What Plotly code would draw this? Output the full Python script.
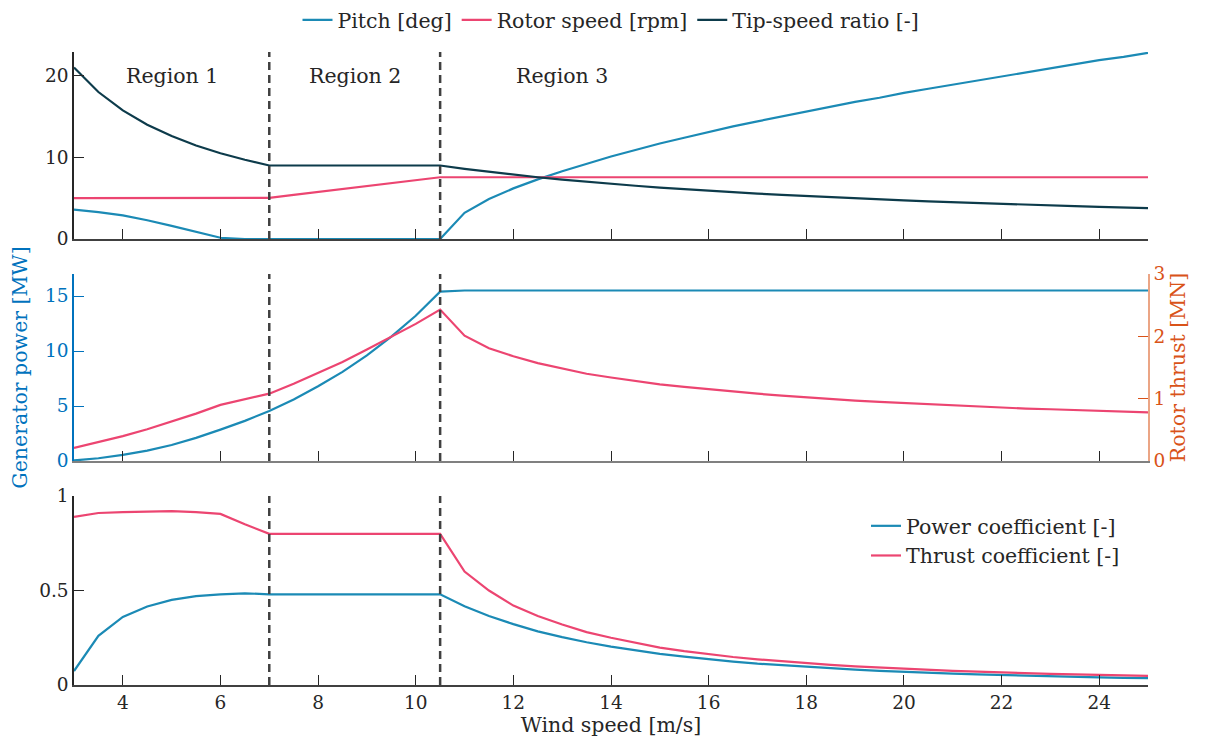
import plotly.graph_objects as go

wind = [3, 3.5, 4, 4.5, 5, 5.5, 6, 6.5, 7, 7.5, 8, 8.5, 9, 9.5, 10, 10.5,
        11, 11.5, 12, 12.5, 13, 13.5, 14, 14.5, 15, 15.5, 16, 16.5, 17, 17.5,
        18, 18.5, 19, 19.5, 20, 20.5, 21, 21.5, 22, 22.5, 23, 23.5, 24, 24.5, 25]

pitch = [3.6, 3.3, 2.9, 2.3, 1.6, 0.9, 0.15, 0.0, 0.0, 0.0, 0.0, 0.0, 0.0, 0.0, 0.0, 0.0,
         3.2, 4.9, 6.2, 7.3, 8.3, 9.2, 10.1, 10.9, 11.7, 12.4, 13.1, 13.8, 14.4, 15.0,
         15.6, 16.2, 16.8, 17.3, 17.9, 18.4, 18.9, 19.4, 19.9, 20.4, 20.9, 21.4, 21.9, 22.3, 22.8]

rotor_speed = [5.0, 5.0, 5.0, 5.0, 5.0, 5.0, 5.0, 5.0, 5.04, 5.4, 5.76, 6.12, 6.48, 6.84, 7.2, 7.56,
               7.56, 7.56, 7.56, 7.56, 7.56, 7.56, 7.56, 7.56, 7.56, 7.56, 7.56, 7.56, 7.56, 7.56,
               7.56, 7.56, 7.56, 7.56, 7.56, 7.56, 7.56, 7.56, 7.56, 7.56, 7.56, 7.56, 7.56, 7.56, 7.56]

tsr = [21.0, 18.0, 15.75, 14.0, 12.6, 11.45, 10.5, 9.7, 9.0, 9.0, 9.0, 9.0, 9.0, 9.0, 9.0, 9.0,
       8.59, 8.22, 7.88, 7.56, 7.27, 7.0, 6.75, 6.52, 6.3, 6.1, 5.91, 5.73, 5.56, 5.4,
       5.25, 5.11, 4.97, 4.85, 4.73, 4.61, 4.5, 4.4, 4.3, 4.2, 4.11, 4.02, 3.94, 3.86, 3.78]

gen_power = [0.05, 0.25, 0.55, 0.95, 1.45, 2.1, 2.85, 3.65, 4.55, 5.6, 6.8, 8.1, 9.6, 11.3, 13.2, 15.4,
             15.5, 15.5, 15.5, 15.5, 15.5, 15.5, 15.5, 15.5, 15.5, 15.5, 15.5, 15.5, 15.5, 15.5,
             15.5, 15.5, 15.5, 15.5, 15.5, 15.5, 15.5, 15.5, 15.5, 15.5, 15.5, 15.5, 15.5, 15.5, 15.5]

rotor_thrust = [0.21, 0.3, 0.4, 0.51, 0.63, 0.76, 0.9, 0.99, 1.08, 1.24, 1.41, 1.59, 1.79, 1.99, 2.2, 2.43,
                2.01, 1.81, 1.68, 1.57, 1.48, 1.4, 1.34, 1.28, 1.23, 1.19, 1.15, 1.11, 1.08, 1.05,
                1.02, 1.0, 0.97, 0.95, 0.93, 0.91, 0.89, 0.88, 0.86, 0.84, 0.83, 0.82, 0.8, 0.79, 0.78]

cp = [0.074, 0.26, 0.36, 0.415, 0.45, 0.47, 0.48, 0.485, 0.48, 0.48, 0.48, 0.48, 0.48, 0.48, 0.48, 0.48,
      0.417, 0.365, 0.322, 0.284, 0.253, 0.226, 0.203, 0.183, 0.165, 0.15, 0.136, 0.124, 0.113, 0.104,
      0.095, 0.088, 0.081, 0.075, 0.069, 0.064, 0.06, 0.056, 0.052, 0.049, 0.046, 0.043, 0.04, 0.038, 0.036]

ct = [0.89, 0.91, 0.915, 0.918, 0.92, 0.915, 0.905, 0.85, 0.8, 0.8, 0.8, 0.8, 0.8, 0.8, 0.8, 0.8,
      0.6, 0.5, 0.42, 0.365, 0.32, 0.28, 0.25, 0.222, 0.198, 0.179, 0.163, 0.148, 0.136, 0.125,
      0.115, 0.107, 0.099, 0.092, 0.086, 0.08, 0.075, 0.071, 0.066, 0.063, 0.059, 0.056, 0.053, 0.05, 0.048]

region_bounds = [7, 10.5]
region_labels = ["Region 1", "Region 2", "Region 3"]
region_label_x = [5, 8.75, 13]
region_label_y = 20

x_ticks = [4, 6, 8, 10, 12, 14, 16, 18, 20, 22, 24]

BLUE = "#1b8ab5"
PINK = "#ec4571"
DARK = "#0d3b4b"
AX_BLUE = "#0072bd"
AX_ORANGE = "#d95319"
TXT = "#262626"
FONT = "DejaVu Serif"
FS = 20.5     # labels, legends, annotations
FT = 18.5     # tick labels

# page body has an 8px margin: figure origin sits at (8, 8)
OFF = 8
W, Hfig = 1191, 733
L = 74 - OFF
T = 52 - OFF
R = W - (1148 - OFF)
B = Hfig - (685 - OFF)

fig = go.Figure()
lw = 2.2

fig.add_trace(go.Scatter(x=wind, y=pitch, name="Pitch [deg]", mode="lines",
                         line=dict(color=BLUE, width=lw), xaxis="x", yaxis="y", legend="legend"))
fig.add_trace(go.Scatter(x=wind, y=rotor_speed, name="Rotor speed [rpm]", mode="lines",
                         line=dict(color=PINK, width=lw), xaxis="x", yaxis="y", legend="legend"))
fig.add_trace(go.Scatter(x=wind, y=tsr, name="Tip-speed ratio [-]", mode="lines",
                         line=dict(color=DARK, width=lw), xaxis="x", yaxis="y", legend="legend"))

fig.add_trace(go.Scatter(x=wind, y=gen_power, name="Generator power [MW]", mode="lines",
                         line=dict(color=BLUE, width=lw), xaxis="x2", yaxis="y2", showlegend=False))
fig.add_trace(go.Scatter(x=wind, y=rotor_thrust, name="Rotor thrust [MN]", mode="lines",
                         line=dict(color=PINK, width=lw), xaxis="x2", yaxis="y3", showlegend=False))

fig.add_trace(go.Scatter(x=wind, y=cp, name="Power coefficient [-]", mode="lines",
                         line=dict(color=BLUE, width=lw), xaxis="x3", yaxis="y4", legend="legend2"))
fig.add_trace(go.Scatter(x=wind, y=ct, name="Thrust coefficient [-]", mode="lines",
                         line=dict(color=PINK, width=lw), xaxis="x3", yaxis="y4", legend="legend2"))

H = 633.0
dom_top = [(685 - 239) / H, 1.0]
dom_mid = [(685 - 461) / H, (685 - 274) / H]
dom_bot = [0.0, (685 - 496) / H]

def xax(anchor, show_labels, linecolor):
    d = dict(domain=[0, 1], anchor=anchor, range=[3, 25], tickvals=x_ticks,
             showticklabels=show_labels, ticks="inside", ticklen=10, tickcolor=TXT,
             tickwidth=1, showline=True, linecolor=linecolor, linewidth=1.5,
             showgrid=False, zeroline=False, automargin=False,
             tickfont=dict(family=FONT, size=FT, color=TXT))
    return d

fig.update_layout(
    width=W, height=Hfig,
    margin=dict(l=L, r=R, t=T, b=B, autoexpand=False),
    paper_bgcolor="white", plot_bgcolor="white",
    font=dict(family=FONT, size=FS, color=TXT),
    xaxis=xax("y", False, "#404040"),
    xaxis2=xax("y2", False, "#808080"),
    xaxis3=dict(xax("y4", True, "#404040"),
                title=dict(text="Wind speed [m/s]", font=dict(family=FONT, size=FS, color=TXT), standoff=2)),
    yaxis=dict(domain=dom_top, anchor="x", range=[0, 22.9], tickvals=[0, 10, 20],
               ticks="inside", ticklen=10, tickcolor=TXT, showline=True, linecolor=TXT,
               linewidth=1.5, showgrid=False, zeroline=False, automargin=False,
               tickfont=dict(family=FONT, size=FT, color=TXT)),
    yaxis2=dict(domain=dom_mid, anchor="x2", range=[0, 17], tickvals=[0, 5, 10, 15],
                ticks="inside", ticklen=10, tickcolor=AX_BLUE, showline=True, linecolor=AX_BLUE,
                linewidth=1.5, showgrid=False, zeroline=False, automargin=False,
                tickfont=dict(family=FONT, size=FT, color=AX_BLUE),
                title=dict(text="Generator power [MW]", font=dict(family=FONT, size=FS, color=AX_BLUE), standoff=14)),
    yaxis3=dict(domain=dom_mid, anchor="x2", overlaying="y2", side="right", range=[0, 3],
                tickvals=[0, 1, 2, 3], ticks="inside", ticklen=10, tickcolor=AX_ORANGE,
                showline=True, linecolor="#eba585", linewidth=1.5, showgrid=False, zeroline=False,
                automargin=False,
                tickfont=dict(family=FONT, size=FT, color=AX_ORANGE),
                title=dict(text="Rotor thrust [MN]", font=dict(family=FONT, size=FS, color=AX_ORANGE), standoff=6)),
    yaxis4=dict(domain=dom_bot, anchor="x3", range=[0, 1], tickvals=[0, 0.5, 1],
                ticktext=["0", "0.5", "1"], ticks="inside", ticklen=10, tickcolor=TXT,
                showline=True, linecolor=TXT, linewidth=1.5, showgrid=False, zeroline=False,
                automargin=False,
                tickfont=dict(family=FONT, size=FT, color=TXT)),
    legend=dict(orientation="h", x=0.5, xanchor="center", y=1 + 32 / H, yanchor="middle",
                bgcolor="rgba(0,0,0,0)", font=dict(family=FONT, size=FS, color=TXT),
                itemwidth=30, tracegroupgap=0),
    legend2=dict(orientation="v", x=(866 - 74) / 1074, xanchor="left",
                 y=(685 - 506) / H, yanchor="top", bgcolor="rgba(0,0,0,0)",
                 font=dict(family=FONT, size=FS, color=TXT), tracegroupgap=0),
    showlegend=True,
)

shapes = []
for xa, ya in [("x", "y"), ("x2", "y2"), ("x3", "y4")]:
    for b in region_bounds:
        shapes.append(dict(type="line", xref=xa, yref=ya + " domain", x0=b, x1=b, y0=0, y1=1,
                           line=dict(color="#404040", width=2.5, dash="8px,5px"), layer="above"))
fig.update_layout(shapes=shapes)

for lbl, lx in zip(region_labels, region_label_x):
    fig.add_annotation(x=lx, y=region_label_y, xref="x", yref="y", text=lbl, showarrow=False,
                       font=dict(family=FONT, size=FS, color=TXT))

fig.write_html("out.html")
